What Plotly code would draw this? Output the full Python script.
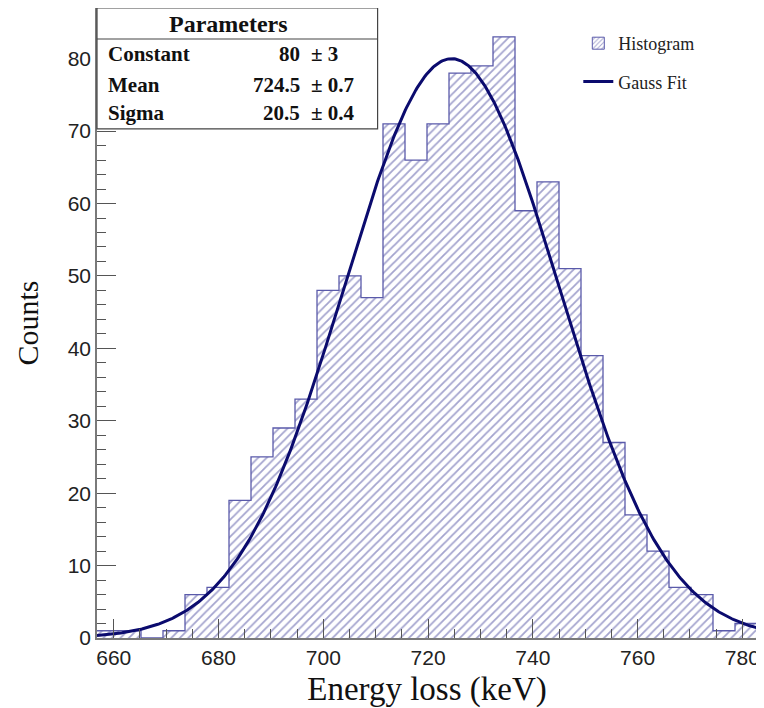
import numpy as np
import plotly.graph_objects as go

# ---- data ----
x_min = 656.8          # keV, histogram low edge
bin_width = 4.2        # keV
counts = [1, 1, 0, 1, 6, 7, 19, 25, 29, 33,
          48, 50, 47, 71, 66, 71, 78, 79, 83, 59,
          63, 51, 39, 27, 17, 12, 7, 6, 1, 2]
fit_constant = 80.0
fit_mean = 724.5
fit_sigma = 20.5
x_ticks = [660, 680, 700, 720, 740, 760, 780]
param_names = ["Constant", "Mean", "Sigma"]
param_values = ["80", "724.5", "20.5"]
param_errors = ["± 3", "± 0.7", "± 0.4"]

n_bins = len(counts)
edges = [x_min + i * bin_width for i in range(n_bins + 1)]
centers = [x_min + (i + 0.5) * bin_width for i in range(n_bins)]
x_max = edges[-1]

xf = np.linspace(x_min, x_max, 500)
yf = fit_constant * np.exp(-0.5 * ((xf - fit_mean) / fit_sigma) ** 2)

HATCH = "#4a4a9e"
OUTLINE = "#5a5aaa"
CURVE = "#0b0b6e"
FRAME = "#7a7a7a"
SERIF = "Liberation Serif"
SANS = "Liberation Sans"

fig = go.Figure()

fig.add_trace(go.Bar(
    x=centers, y=counts, width=bin_width, showlegend=False,
    marker=dict(color="white", line=dict(width=0),
                pattern=dict(shape="/", fgcolor=HATCH, bgcolor="white",
                             size=6, solidity=0.3, fillmode="overlay")),
    hoverinfo="skip",
))
fig.add_trace(go.Scatter(
    x=edges, y=counts + [counts[-1]], mode="lines", line_shape="hv",
    line=dict(color=OUTLINE, width=1.3), showlegend=False, hoverinfo="skip",
))
fig.add_trace(go.Bar(
    x=[None], y=[None], name="Histogram", legendgroup="h",
    marker=dict(color="white", line=dict(color=OUTLINE, width=1),
                pattern=dict(shape="/", fgcolor=HATCH, bgcolor="white",
                             size=4, solidity=0.3, fillmode="overlay")),
))
fig.add_trace(go.Scatter(
    x=xf, y=yf, mode="lines", name="Gauss Fit", legendgroup="g",
    line=dict(color=CURVE, width=3),
))

# plot area in window pixels (page body adds an 8 px offset)
L, R, T, B = 96.7, 756.7, 8.0, 638.3
def px(xp):
    return (xp - L) / (R - L)
def py(yp):
    return (B - yp) / (B - T)

fig.add_shape(type="rect", xref="paper", yref="paper",
              x0=0, x1=px(377.3), y0=py(129), y1=1.0,
              line=dict(color="#444", width=1.2), fillcolor="white", layer="above")
fig.add_shape(type="line", xref="paper", yref="paper",
              x0=0, x1=px(377.3), y0=py(39), y1=py(39),
              line=dict(color="#444", width=1.2), layer="above")
fig.add_annotation(text="<b>Parameters</b>", xref="paper", yref="paper",
                   x=px(228), y=py(24), xanchor="center", yanchor="middle",
                   showarrow=False, font=dict(family=SERIF, size=24, color="#111"))
row_y = [54, 85, 113]
for name, val, err, yy in zip(param_names, param_values, param_errors, row_y):
    fig.add_annotation(text=f"<b>{name}</b>", xref="paper", yref="paper",
                       x=px(106), y=py(yy), xanchor="left", yanchor="middle",
                       showarrow=False, font=dict(family=SERIF, size=21, color="#111"))
    fig.add_annotation(text=f"<b>{val}</b>", xref="paper", yref="paper",
                       x=px(302), y=py(yy), xanchor="right", yanchor="middle",
                       showarrow=False, font=dict(family=SERIF, size=21, color="#111"))
    fig.add_annotation(text=f"<b>{err}</b>", xref="paper", yref="paper",
                       x=px(309), y=py(yy), xanchor="left", yanchor="middle",
                       showarrow=False, font=dict(family=SERIF, size=21, color="#111"))

fig.update_layout(
    width=756, height=700,
    margin=dict(l=89, r=7, t=0, b=70),
    paper_bgcolor="white", plot_bgcolor="white",
    bargap=0,
    showlegend=True,
    legend=dict(x=px(578), y=py(25), xanchor="left", yanchor="top",
                bgcolor="rgba(0,0,0,0)", borderwidth=0,
                traceorder="grouped", tracegroupgap=12,
                font=dict(family=SERIF, size=18, color="#222")),
    xaxis=dict(range=[x_min, x_max], tickvals=x_ticks, automargin=False,
               ticks="inside", ticklen=19, tickwidth=1.2, tickcolor="#555",
               minor=dict(ticks="inside", ticklen=9, dtick=5, tick0=660,
                          tickcolor="#555", tickwidth=1),
               showgrid=False, zeroline=False, layer="above traces",
               showline=True, mirror=True, linecolor=FRAME, linewidth=1.5,
               tickfont=dict(family=SANS, size=21, color="#222"),
               title=dict(text="Energy loss (keV)", standoff=10,
                          font=dict(family=SERIF, size=33, color="#111"))),
    yaxis=dict(range=[0, 87], dtick=10, tick0=0, automargin=False,
               ticks="inside", ticklen=19, tickwidth=1.2, tickcolor="#555",
               minor=dict(ticks="inside", ticklen=9, dtick=2,
                          tickcolor="#555", tickwidth=1),
               showgrid=False, zeroline=False, layer="above traces",
               showline=True, mirror=True, linecolor=FRAME, linewidth=1.5,
               tickfont=dict(family=SANS, size=21, color="#222"),
               title=dict(text="Counts", standoff=20,
                          font=dict(family=SERIF, size=30, color="#111"))),
)

fig.write_html("out.html")
